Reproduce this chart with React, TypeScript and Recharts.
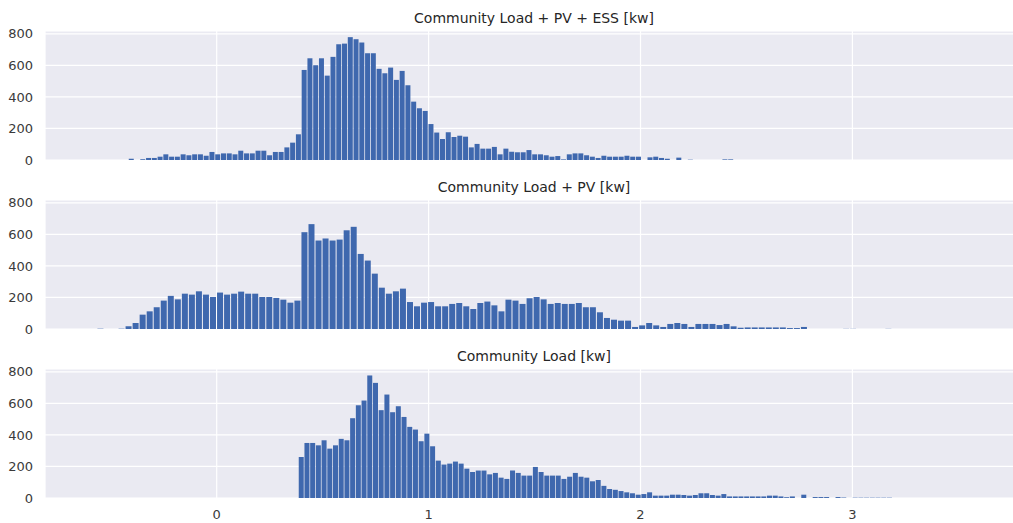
import { useMemo } from 'react'
import { Bar, BarChart, CartesianGrid, XAxis, YAxis } from 'recharts'

// histogram counts per bin
const loadPvEssCounts = [
  8, 0, 5, 13, 13, 21, 36, 21, 21, 36,
  30, 36, 36, 27, 51, 36, 42, 42, 36, 59,
  42, 42, 59, 59, 30, 51, 51, 80, 110, 163,
  571, 645, 601, 645, 535, 654, 734, 738, 779, 766,
  745, 677, 677, 578, 550, 586, 508, 565, 474, 370,
  328, 311, 228, 174, 133, 176, 146, 154, 148, 80,
  102, 72, 72, 83, 36, 72, 53, 49, 49, 63,
  36, 36, 30, 21, 25, 4, 36, 42, 42, 30,
  21, 13, 27, 21, 21, 21, 27, 21, 21, 0,
  17, 21, 13, 8, 0, 15, 0, 2, 0, 0,
  0, 0, 0, 4, 4,
]

const loadPvCounts = [
  2, 0, 0, 2,
  17, 38, 91, 112, 138, 180, 210, 188, 224, 218,
  239, 218, 203, 231, 218, 224, 237, 224, 224, 203,
  203, 197, 186, 167, 180,
  614, 665, 561, 574, 561, 567, 626, 648, 476, 434,
  351, 262, 224, 239, 256, 171, 144, 167, 171, 144,
  144, 159, 165, 144, 127, 165, 174, 150, 112, 186,
  180, 159, 195, 203, 188, 159, 165, 159, 159, 165,
  138, 138, 106, 70, 59, 53, 53, 13, 23, 38,
  23, 13, 32, 38, 32, 13, 32, 32, 32, 25,
  32, 17, 8, 10, 10, 10, 10, 10, 10, 6,
  6, 13, 0, 0, 0, 0, 0, 1, 1, 0,
  0, 0, 0, 1,
]

const loadCounts = [
  260, 349, 349, 334, 366, 313, 334, 375, 366, 506,
  588, 618, 777, 730, 557, 656, 544, 582, 514, 451,
  434, 360, 408, 328, 237, 212, 218, 231, 218, 186,
  165, 174, 174, 150, 159, 129, 121, 174, 159, 142,
  142, 197, 165, 142, 142, 142, 121, 135, 159, 135,
  129, 106, 114, 77, 57, 52, 44, 36, 30, 21,
  25, 36, 15, 15, 15, 21, 21, 19, 15, 19,
  30, 30, 19, 15, 25, 10, 10, 10, 10, 10,
  10, 10, 15, 15, 10, 5, 10, 0, 21, 0,
  6, 6, 6, 0, 6, 3, 0, 2, 2, 2,
  2, 2, 2, 2,
]

// first bin edge and bin width [kw]
const loadPvEssBins = { start: -0.4172, width: 0.0272 }
const loadPvBins = { start: -0.5655, width: 0.0332 }
const loadBins = { start: 0.385, width: 0.02695 }

const xTicks = [0, 1, 2, 3]
const yTicks = [0, 200, 400, 600, 800]
const xDomain: [number, number] = [-0.8103, 3.8051]
const yDomain: [number, number] = [0, 818]

const font = '"DejaVu Sans", sans-serif'
const textColor = '#262626'
const tickStyle = { fontSize: 13, fill: '#3a3a3a', fontFamily: font }

type Bins = { start: number; width: number }

// shared x axis: only the bottom panel prints its labels
const noTick = () => <g />

function HistPanel({
  title,
  counts,
  bins,
  top,
  showX,
}: {
  title: string
  counts: number[]
  bins: Bins
  top: number
  showX: boolean
}) {
  const rows = useMemo(
    () => counts.map((c, i) => ({ x: bins.start + (i + 0.5) * bins.width, count: c })),
    [counts, bins],
  )

  return (
    <div style={{ position: 'absolute', left: 0, top, width: 1023 }}>
      <BarChart
        width={1023}
        height={185}
        data={rows}
        margin={{ top: 31, right: 0, bottom: 0, left: 0 }}
        barCategoryGap="8%"
      >
        <CartesianGrid fill="#EAEAF2" fillOpacity={1} stroke="#ffffff" strokeWidth={1.2} />
        <XAxis
          type="number"
          dataKey="x"
          domain={xDomain}
          ticks={xTicks}
          interval={0}
          allowDataOverflow
          height={25}
          tick={showX ? tickStyle : noTick}
          tickSize={0}
          tickMargin={12}
          axisLine={false}
          tickLine={false}
        />
        <YAxis
          type="number"
          domain={yDomain}
          ticks={yTicks}
          interval={0}
          allowDataOverflow
          width={45}
          tick={tickStyle}
          tickSize={0}
          tickMargin={12}
          axisLine={false}
          tickLine={false}
        />
        <Bar dataKey="count" fill="#3F68AE" isAnimationActive={false} />
      </BarChart>
      <div
        style={{
          position: 'absolute',
          left: 45,
          width: 978,
          top: 10,
          textAlign: 'center',
          fontFamily: font,
          fontSize: 14,
          lineHeight: '16px',
          color: textColor,
          whiteSpace: 'nowrap',
        }}
      >
        {title}
      </div>
    </div>
  )
}

export default function App() {
  return (
    <div
      style={{
        position: 'absolute',
        left: 0,
        top: 0,
        width: 1013,
        height: 523,
        overflow: 'hidden',
        background: '#ffffff',
      }}
    >
      <HistPanel
        title="Community Load + PV + ESS [kw]"
        counts={loadPvEssCounts}
        bins={loadPvEssBins}
        top={0}
        showX={false}
      />
      <HistPanel
        title="Community Load + PV [kw]"
        counts={loadPvCounts}
        bins={loadPvBins}
        top={169}
        showX={false}
      />
      <HistPanel
        title="Community Load [kw]"
        counts={loadCounts}
        bins={loadBins}
        top={338}
        showX
      />
    </div>
  )
}
